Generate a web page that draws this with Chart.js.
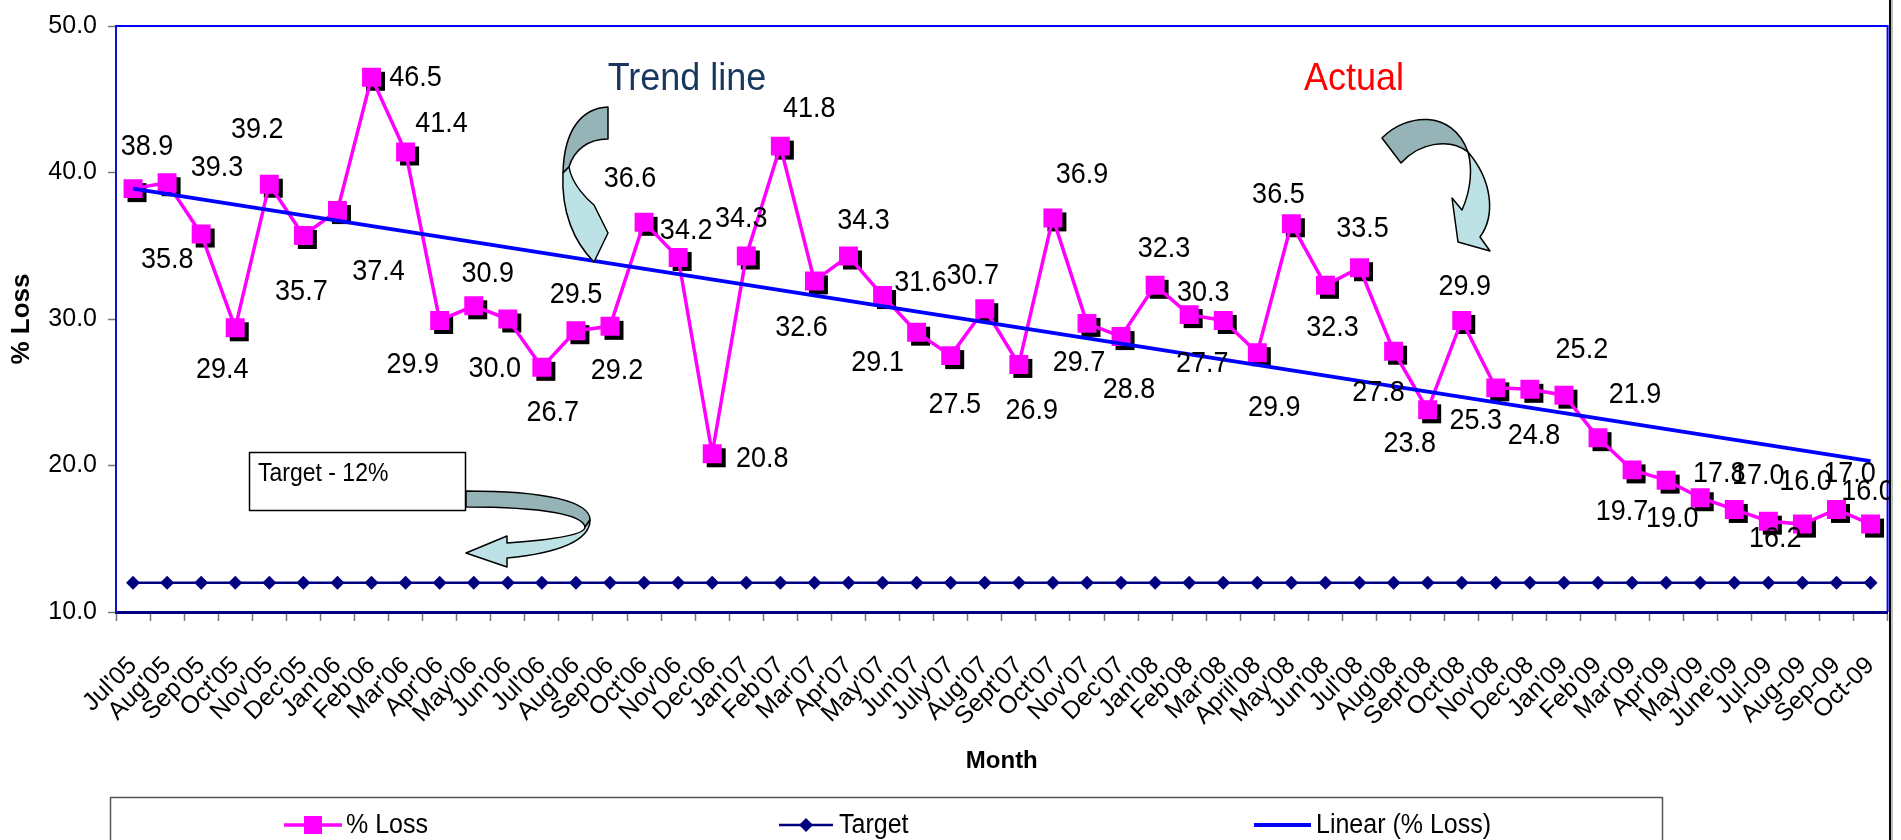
<!DOCTYPE html>
<html>
<head>
<meta charset="utf-8">
<title>% Loss by month</title>
<script src="https://cdn.jsdelivr.net/npm/chart.js@4.4.1/dist/chart.umd.min.js"></script>
<style>
  html, body { margin: 0; padding: 0; background: #fff; }
  #wrap { width: 1901px; height: 840px; position: relative; }
</style>
</head>
<body>
<div id="wrap"><canvas id="lossChart" width="1901" height="840"></canvas></div>
<script>
const MONTHS = ["Jul'05", "Aug'05", "Sep'05", "Oct'05", "Nov'05", "Dec'05",
  "Jan'06", "Feb'06", "Mar'06", "Apr'06", "May'06", "Jun'06", "Jul'06", "Aug'06", "Sep'06", "Oct'06", "Nov'06", "Dec'06",
  "Jan'07", "Feb'07", "Mar'07", "Apr'07", "May'07", "Jun'07", "July'07", "Aug'07", "Sept'07", "Oct'07", "Nov'07", "Dec'07",
  "Jan'08", "Feb'08", "Mar'08", "April'08", "May'08", "Jun'08", "Jul'08", "Aug'08", "Sept'08", "Oct'08", "Nov'08", "Dec'08",
  "Jan'09", "Feb'09", "Mar'09", "Apr'09", "May'09", "June'09", "Jul-09", "Aug-09", "Sep-09", "Oct-09"];

const LOSS = [38.9, 39.3, 35.8, 29.4, 39.2, 35.7,
  37.4, 46.5, 41.4, 29.9, 30.9, 30.0, 26.7, 29.2, 29.5, 36.6, 34.2, 20.8,
  34.3, 41.8, 32.6, 34.3, 31.6, 29.1, 27.5, 30.7, 26.9, 36.9, 29.7, 28.8,
  32.3, 30.3, 29.9, 27.7, 36.5, 32.3, 33.5, 27.8, 23.8, 29.9, 25.3, 25.2,
  24.8, 21.9, 19.7, 19.0, 17.8, 17.0, 16.2, 16.0, 17.0, 16.0];

const TARGET = [12, 12, 12, 12, 12, 12, 12, 12, 12, 12, 12, 12, 12, 12, 12, 12, 12, 12,
  12, 12, 12, 12, 12, 12, 12, 12, 12, 12, 12, 12, 12, 12, 12, 12, 12, 12,
  12, 12, 12, 12, 12, 12, 12, 12, 12, 12, 12, 12, 12, 12, 12, 12];

// linear trend of % Loss, ends
const TREND_ENDS = [38.9, 20.3];

const Y_MIN = 10, Y_MAX = 50, Y_STEP = 10;

// where each value label sits relative to its marker (text centre, px)
const LABEL_OFFSETS = [
  [14, -42], [50, -15], [-34, 26], [-13, 42], [-12, -55], [-2, 56],
  [41, 61], [44, 0], [36, -28], [-27, 44], [14, -32], [-13, 50], [11, 45], [41, 40], [-34, -32], [-14, -44], [8, -27], [50, 5],
  [-5, -37], [29, -37], [-13, 47], [15, -35], [38, -13], [-39, 30], [4, 49], [-12, -33], [13, 46], [29, -43], [-8, 39], [8, 53],
  [9, -37], [14, -22], [51, 87], [-55, 11], [-13, -29], [7, 42], [3, -39], [-15, 41], [-18, 34], [3, -34], [-20, 33], [52, -40],
  [-30, 40], [37, -43], [-10, 42], [6, 39], [19, -24], [24, -34], [7, 17], [3, -42], [13, -36], [-3, -32]
];

const FONT = "'Liberation Sans', Arial, sans-serif";
Chart.defaults.font.family = FONT;
Chart.defaults.color = "#000";

// the source picture has slightly tall, narrow lettering
function tallText(ctx, text, x, y, stretch) {
  ctx.save();
  ctx.translate(x, y);
  ctx.scale(1, stretch);
  ctx.fillText(text, 0, 0);
  ctx.restore();
}

const markerShadow = {
  id: "markerShadow",
  beforeDatasetDraw(chart, args) {
    if (args.index !== 0) return;
    const ctx = chart.ctx;
    ctx.save();
    ctx.fillStyle = "#000";
    args.meta.data.forEach((pt) => {
      ctx.fillRect(pt.x - 9.5 + 4, pt.y - 9.5 + 4, 19, 19);
    });
    ctx.restore();
  }
};

const valueLabels = {
  id: "valueLabels",
  afterDatasetsDraw(chart) {
    const meta = chart.getDatasetMeta(0);
    const ctx = chart.ctx;
    ctx.save();
    ctx.font = "27px " + FONT;
    ctx.fillStyle = "#000";
    ctx.textAlign = "center";
    ctx.textBaseline = "middle";
    meta.data.forEach((pt, i) => {
      const off = LABEL_OFFSETS[i];
      tallText(ctx, LOSS[i].toFixed(1), pt.x + off[0], pt.y + off[1], 1.12);
    });
    ctx.restore();
  }
};

function shape(ctx, fill, draw) {
  ctx.beginPath();
  draw();
  ctx.closePath();
  ctx.fillStyle = fill;
  ctx.fill();
  ctx.stroke();
}

const DARK = "#96b3b7", LIGHT = "#bce2e6";

const decorations = {
  id: "decorations",
  beforeDatasetsDraw(chart) {
    const { ctx, chartArea: a } = chart;
    ctx.save();
    ctx.strokeStyle = "#0000ff";
    ctx.lineWidth = 2;
    ctx.beginPath();
    ctx.moveTo(a.left, a.top);
    ctx.lineTo(a.right, a.top);
    ctx.lineTo(a.right, a.bottom);
    ctx.stroke();
    ctx.restore();
  },
  afterDraw(chart) {
    const ctx = chart.ctx;
    ctx.save();
    ctx.lineWidth = 1.5;
    ctx.strokeStyle = "#000";
    ctx.lineJoin = "round";

    // target note box
    ctx.fillStyle = "#fff";
    ctx.fillRect(249.5, 452.5, 216, 58);
    ctx.strokeRect(249.5, 452.5, 216, 58);
    ctx.fillStyle = "#000";
    ctx.font = "23px " + FONT;
    ctx.textBaseline = "alphabetic";
    tallText(ctx, "Target - 12%", 258, 481, 1.15);

    // u-turn arrow from the box
    shape(ctx, DARK, () => {
      ctx.moveTo(466, 491);
      ctx.bezierCurveTo(545, 491, 590, 501, 590, 520);
      ctx.lineTo(585, 527);
      ctx.bezierCurveTo(583, 515, 545, 507, 466, 507);
    });
    shape(ctx, LIGHT, () => {
      ctx.moveTo(590, 520);
      ctx.bezierCurveTo(590, 540, 560, 553, 507, 558);
      ctx.lineTo(507, 567);
      ctx.lineTo(466, 553);
      ctx.lineTo(507, 536);
      ctx.lineTo(507, 543);
      ctx.bezierCurveTo(550, 540, 585, 535, 585, 527);
    });

    // trend line arrow
    shape(ctx, DARK, () => {
      ctx.moveTo(608, 107);
      ctx.bezierCurveTo(583, 108, 564, 128, 563, 173);
      ctx.lineTo(569, 167);
      ctx.bezierCurveTo(574, 150, 588, 139, 608, 139);
    });
    shape(ctx, LIGHT, () => {
      ctx.moveTo(563, 173);
      ctx.bezierCurveTo(561, 212, 574, 242, 594, 262);
      ctx.lineTo(608, 233);
      ctx.lineTo(594, 205);
      ctx.bezierCurveTo(588, 200, 572, 185, 569, 167);
    });

    // actual arrow
    shape(ctx, DARK, () => {
      ctx.moveTo(1382, 138);
      ctx.bezierCurveTo(1405, 114, 1452, 108, 1468, 152);
      ctx.bezierCurveTo(1450, 138, 1420, 142, 1401, 163);
    });
    shape(ctx, LIGHT, () => {
      ctx.moveTo(1468, 152);
      ctx.bezierCurveTo(1492, 180, 1496, 215, 1480, 237);
      ctx.lineTo(1490, 251);
      ctx.lineTo(1458, 242);
      ctx.lineTo(1452, 198);
      ctx.lineTo(1462, 210);
      ctx.bezierCurveTo(1472, 188, 1472, 166, 1468, 152);
    });

    ctx.textAlign = "center";
    ctx.textBaseline = "middle";
    ctx.font = "36px " + FONT;
    ctx.fillStyle = "#17375e";
    tallText(ctx, "Trend line", 687, 79, 1.1);
    ctx.fillStyle = "#ff0000";
    tallText(ctx, "Actual", 1354, 79, 1.1);

    // legend
    ctx.strokeStyle = "#555";
    ctx.lineWidth = 1.5;
    ctx.strokeRect(110.5, 797.5, 1552, 60);
    const ly = 825;
    ctx.lineWidth = 3.5;
    ctx.strokeStyle = "#ff00ff";
    ctx.beginPath(); ctx.moveTo(284, ly); ctx.lineTo(342, ly); ctx.stroke();
    ctx.fillStyle = "#ff00ff";
    ctx.fillRect(304, ly - 9, 18, 18);
    ctx.lineWidth = 2.5;
    ctx.strokeStyle = "#000080";
    ctx.beginPath(); ctx.moveTo(779, ly); ctx.lineTo(833, ly); ctx.stroke();
    ctx.fillStyle = "#000080";
    ctx.beginPath();
    ctx.moveTo(806, ly - 7); ctx.lineTo(813, ly); ctx.lineTo(806, ly + 7); ctx.lineTo(799, ly);
    ctx.closePath(); ctx.fill();
    ctx.lineWidth = 4;
    ctx.strokeStyle = "#0000ff";
    ctx.beginPath(); ctx.moveTo(1254, ly); ctx.lineTo(1311, ly); ctx.stroke();
    ctx.fillStyle = "#000";
    ctx.font = "25px " + FONT;
    ctx.textAlign = "left";
    tallText(ctx, "% Loss", 346, ly, 1.1);
    tallText(ctx, "Target", 839, ly, 1.1);
    tallText(ctx, "Linear (% Loss)", 1316, ly, 1.1);

    // right edge of the chart frame
    ctx.fillStyle = "#000";
    ctx.fillRect(1889, 0, 2, 840);
    ctx.fillStyle = "#bdbdbd";
    ctx.fillRect(1891, 0, 2, 840);
    ctx.restore();
  }
};

new Chart(document.getElementById("lossChart"), {
  type: "line",
  data: {
    labels: MONTHS,
    datasets: [
      {
        label: "% Loss",
        data: LOSS,
        order: 2,
        borderColor: "#ff00ff",
        borderWidth: 3.5,
        backgroundColor: "#ff00ff",
        pointStyle: "rect",
        pointRadius: 13.4,
        pointBorderWidth: 0,
        pointBackgroundColor: "#ff00ff",
        tension: 0
      },
      {
        label: "Target",
        data: TARGET,
        order: 1,
        borderColor: "#000080",
        borderWidth: 2.5,
        pointStyle: "rectRot",
        pointRadius: 7,
        pointBorderWidth: 0,
        pointBackgroundColor: "#000080",
        tension: 0
      },
      {
        label: "Linear (% Loss)",
        data: [{ x: MONTHS[0], y: TREND_ENDS[0] }, { x: MONTHS[MONTHS.length - 1], y: TREND_ENDS[1] }],
        order: 0,
        borderColor: "#0000ff",
        borderWidth: 4,
        pointRadius: 0,
        tension: 0
      }
    ]
  },
  options: {
    responsive: false,
    animation: false,
    events: [],
    layout: { padding: { left: 0, top: 21, right: 13, bottom: 0 } },
    plugins: { legend: { display: false }, tooltip: { enabled: false } },
    scales: {
      x: {
        type: "category",
        offset: true,
        grid: { offset: true, drawOnChartArea: false, tickLength: 9, tickColor: "#777", tickWidth: 1.5 },
        border: { color: "#000080", width: 3 },
        ticks: { autoSkip: false, minRotation: 45, maxRotation: 45, padding: 30, font: { size: 25 } },
        title: { display: true, text: "Month", font: { size: 24, weight: "bold" }, padding: { top: 0, bottom: 64 } },
        afterFit: (s) => { s.height = 228; s.paddingLeft = 0; s.paddingRight = 0; }
      },
      y: {
        min: Y_MIN,
        max: Y_MAX,
        grid: { drawOnChartArea: false, tickLength: 8, tickColor: "#777", tickWidth: 1.5 },
        border: { color: "#1010d0", width: 2 },
        ticks: { stepSize: Y_STEP, padding: 11, font: { size: 25 }, callback: (v) => v.toFixed(1) },
        title: { display: true, text: "% Loss", font: { size: 26, weight: "bold" }, padding: { top: 6, bottom: 0 } },
        afterFit: (s) => { s.width = 116; }
      }
    }
  },
  plugins: [markerShadow, valueLabels, decorations]
});
</script>
</body>
</html>
